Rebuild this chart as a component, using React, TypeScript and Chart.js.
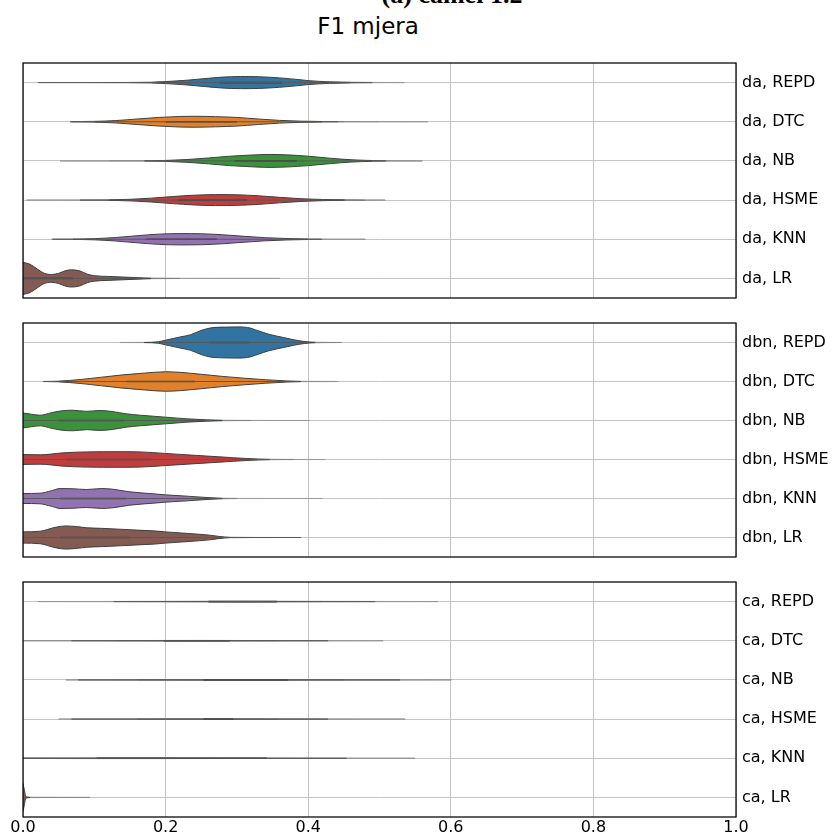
import React, { useEffect, useRef } from 'react';
import { Chart, registerables } from 'chart.js';

Chart.register(...registerables);

// ---------- data ----------
const xTickValues = [0, 0.2, 0.4, 0.6, 0.8, 1.0];
const classifiers = ['REPD', 'DTC', 'NB', 'HSME', 'KNN', 'LR'];
const groups = ['da', 'dbn', 'ca'];
const palette = ['#3274a1', '#e1812c', '#3a923a', '#c03d3e', '#9372b2', '#845b53'];

// each violin: F1 positions (x), half-width of density (w, in row units), box stats [whiskerLo, q1, median, q3, whiskerHi]
// --- da ---
const daREPD_x = [0.02, 0.1, 0.15, 0.18, 0.2, 0.23, 0.26, 0.28, 0.305, 0.33, 0.36, 0.39, 0.4, 0.43, 0.46, 0.49, 0.535];
const daREPD_w = [0.001, 0.002, 0.004, 0.01, 0.025, 0.06, 0.11, 0.14, 0.155, 0.15, 0.12, 0.07, 0.05, 0.02, 0.008, 0.003, 0.001];
const daREPD_box = [0.022, 0.276, 0.316, 0.363, 0.49];

const daDTC_x = [0.066, 0.1, 0.13, 0.16, 0.19, 0.22, 0.24, 0.27, 0.3, 0.33, 0.36, 0.39, 0.42, 0.45, 0.5, 0.568];
const daDTC_w = [0.003, 0.01, 0.03, 0.07, 0.11, 0.135, 0.14, 0.13, 0.11, 0.07, 0.035, 0.015, 0.006, 0.003, 0.002, 0.001];
const daDTC_box = [0.068, 0.2, 0.245, 0.3, 0.442];

const daNB_x = [0.052, 0.12, 0.17, 0.2, 0.23, 0.26, 0.29, 0.32, 0.345, 0.37, 0.4, 0.43, 0.46, 0.49, 0.51, 0.56];
const daNB_w = [0.001, 0.002, 0.004, 0.012, 0.035, 0.075, 0.12, 0.15, 0.165, 0.155, 0.12, 0.07, 0.03, 0.01, 0.004, 0.001];
const daNB_box = [0.171, 0.297, 0.342, 0.384, 0.508];

const daHSME_x = [0.005, 0.08, 0.12, 0.15, 0.18, 0.21, 0.24, 0.27, 0.3, 0.33, 0.36, 0.39, 0.42, 0.45, 0.48, 0.508];
const daHSME_w = [0.001, 0.002, 0.006, 0.02, 0.05, 0.09, 0.125, 0.14, 0.135, 0.11, 0.07, 0.035, 0.015, 0.006, 0.003, 0.001];
const daHSME_box = [0.08, 0.218, 0.265, 0.314, 0.452];

const daKNN_x = [0.04, 0.07, 0.1, 0.13, 0.16, 0.19, 0.22, 0.25, 0.28, 0.31, 0.34, 0.37, 0.4, 0.42, 0.48];
const daKNN_w = [0.002, 0.005, 0.015, 0.045, 0.09, 0.13, 0.145, 0.14, 0.115, 0.075, 0.04, 0.018, 0.006, 0.003, 0.001];
const daKNN_box = [0.042, 0.173, 0.223, 0.272, 0.419];

const daLR_x = [0, 0.01, 0.02, 0.03, 0.04, 0.05, 0.06, 0.068, 0.08, 0.09, 0.1, 0.12, 0.14, 0.16, 0.18, 0.22, 0.36];
const daLR_w = [0.41, 0.36, 0.24, 0.13, 0.1, 0.13, 0.2, 0.22, 0.19, 0.11, 0.07, 0.05, 0.035, 0.02, 0.006, 0.002, 0.001];
const daLR_box = [0, 0, 0.03, 0.07, 0.173];

// --- dbn ---
const dbnREPD_x = [0.136, 0.17, 0.19, 0.2, 0.22, 0.235, 0.25, 0.265, 0.285, 0.3, 0.315, 0.33, 0.345, 0.365, 0.38, 0.395, 0.41, 0.447];
const dbnREPD_w = [0.001, 0.003, 0.02, 0.06, 0.14, 0.2, 0.31, 0.38, 0.395, 0.4, 0.385, 0.3, 0.21, 0.13, 0.07, 0.025, 0.006, 0.001];
const dbnREPD_box = [0.19, 0.262, 0.288, 0.318, 0.4];

const dbnDTC_x = [0.028, 0.05, 0.08, 0.11, 0.14, 0.17, 0.2, 0.22, 0.25, 0.28, 0.31, 0.34, 0.37, 0.39, 0.442];
const dbnDTC_w = [0.002, 0.01, 0.05, 0.11, 0.17, 0.215, 0.25, 0.235, 0.185, 0.13, 0.085, 0.045, 0.015, 0.004, 0.001];
const dbnDTC_box = [0.03, 0.145, 0.194, 0.241, 0.385];

const dbnNB_x = [0, 0.012, 0.024, 0.04, 0.055, 0.07, 0.089, 0.108, 0.125, 0.145, 0.165, 0.2, 0.23, 0.258, 0.28, 0.32, 0.402];
const dbnNB_w = [0.19, 0.16, 0.136, 0.2, 0.25, 0.263, 0.235, 0.255, 0.23, 0.17, 0.135, 0.085, 0.042, 0.017, 0.005, 0.002, 0.001];
const dbnNB_box = [0, 0.05, 0.09, 0.141, 0.265];

const dbnHSME_x = [0, 0.024, 0.056, 0.089, 0.136, 0.164, 0.2, 0.23, 0.276, 0.314, 0.346, 0.38, 0.424];
const dbnHSME_w = [0.127, 0.12, 0.17, 0.195, 0.2, 0.195, 0.155, 0.12, 0.068, 0.025, 0.005, 0.002, 0.001];
const dbnHSME_box = [0, 0.061, 0.12, 0.18, 0.346];

const dbnKNN_x = [0, 0.024, 0.04, 0.052, 0.07, 0.089, 0.11, 0.125, 0.15, 0.183, 0.2, 0.23, 0.258, 0.28, 0.3, 0.42];
const dbnKNN_w = [0.127, 0.136, 0.2, 0.255, 0.25, 0.23, 0.255, 0.24, 0.17, 0.12, 0.093, 0.06, 0.025, 0.006, 0.002, 0.0005];
const dbnKNN_box = [0, 0.052, 0.096, 0.145, 0.28];

const dbnLR_x = [0, 0.024, 0.045, 0.06, 0.075, 0.089, 0.11, 0.136, 0.16, 0.183, 0.2, 0.234, 0.262, 0.276, 0.29, 0.32, 0.39];
const dbnLR_w = [0.144, 0.16, 0.26, 0.297, 0.28, 0.25, 0.235, 0.212, 0.19, 0.17, 0.144, 0.1, 0.06, 0.025, 0.006, 0.002, 0.001];
const dbnLR_box = [0, 0.052, 0.092, 0.15, 0.39];

// --- ca ---
const caREPD_x = [0.021, 0.127, 0.2, 0.26, 0.31, 0.356, 0.42, 0.494, 0.582];
const caREPD_w = [0.001, 0.003, 0.005, 0.007, 0.008, 0.007, 0.005, 0.003, 0.001];
const caREPD_box = [0.127, 0.26, 0.31, 0.356, 0.494];

const caDTC_x = [0, 0.068, 0.13, 0.197, 0.245, 0.29, 0.36, 0.428, 0.505];
const caDTC_w = [0.002, 0.003, 0.005, 0.007, 0.008, 0.007, 0.005, 0.003, 0.001];
const caDTC_box = [0.068, 0.197, 0.245, 0.29, 0.428];

const caNB_x = [0.06, 0.077, 0.16, 0.253, 0.31, 0.372, 0.45, 0.529, 0.601];
const caNB_w = [0.001, 0.002, 0.005, 0.007, 0.008, 0.007, 0.005, 0.003, 0.001];
const caNB_box = [0.077, 0.253, 0.31, 0.372, 0.529];

const caHSME_x = [0.05, 0.068, 0.16, 0.253, 0.275, 0.295, 0.36, 0.428, 0.536];
const caHSME_w = [0.001, 0.002, 0.005, 0.007, 0.008, 0.007, 0.005, 0.003, 0.001];
const caHSME_box = [0.068, 0.253, 0.275, 0.295, 0.428];

const caKNN_x = [0, 0.103, 0.2, 0.342, 0.454, 0.55];
const caKNN_w = [0.006, 0.008, 0.008, 0.006, 0.003, 0.001];
const caKNN_box = [0, 0.103, 0.2, 0.342, 0.454];

const caLR_x = [0, 0.002, 0.004, 0.01, 0.094];
const caLR_w = [0.36, 0.18, 0.02, 0.004, 0.002];
const caLR_box = [0, 0, 0, 0, 0];

const panelViolins = [
  [[daREPD_x, daREPD_w, daREPD_box], [daDTC_x, daDTC_w, daDTC_box], [daNB_x, daNB_w, daNB_box],
   [daHSME_x, daHSME_w, daHSME_box], [daKNN_x, daKNN_w, daKNN_box], [daLR_x, daLR_w, daLR_box]],
  [[dbnREPD_x, dbnREPD_w, dbnREPD_box], [dbnDTC_x, dbnDTC_w, dbnDTC_box], [dbnNB_x, dbnNB_w, dbnNB_box],
   [dbnHSME_x, dbnHSME_w, dbnHSME_box], [dbnKNN_x, dbnKNN_w, dbnKNN_box], [dbnLR_x, dbnLR_w, dbnLR_box]],
  [[caREPD_x, caREPD_w, caREPD_box], [caDTC_x, caDTC_w, caDTC_box], [caNB_x, caNB_w, caNB_box],
   [caHSME_x, caHSME_w, caHSME_box], [caKNN_x, caKNN_w, caKNN_box], [caLR_x, caLR_w, caLR_box]],
];

// ---------- layout ----------
const PANELS = [
  { top: 45, padTop: 18, area: 235, axisH: 0, padBottom: 2 },
  { top: 300, padTop: 23, area: 234, axisH: 0, padBottom: 2 },
  { top: 560, padTop: 22, area: 235, axisH: 18, padBottom: 0 },
];

function shade(w: number) {
  const t = Math.min(1, w / 0.01);
  const g = Math.round(170 - t * 107);
  return `rgb(${g},${g},${g})`;
}

function buildDatasets(pi: number) {
  const ds: any[] = [];
  panelViolins[pi].forEach((v: any, row: number) => {
    const xs: number[] = v[0];
    const ws: number[] = v[1];
    const st: number[] = v[2];
    const common = {
      borderWidth: 1,
      pointRadius: 0,
      cubicInterpolationMode: 'monotone',
      order: 1,
      segment: {
        borderColor: (c: any) => shade((ws[c.p0DataIndex] + ws[c.p1DataIndex]) / 2),
      },
    };
    ds.push({ ...common, data: xs.map((x, i) => ({ x, y: row - ws[i] })), fill: false, borderColor: '#3f3f3f' });
    ds.push({ ...common, data: xs.map((x, i) => ({ x, y: row + ws[i] })), fill: '-1', borderColor: '#3f3f3f', backgroundColor: palette[row] });
    if (st[4] > st[0]) {
      ds.push({ data: [{ x: st[0], y: row }, { x: st[4], y: row }], borderColor: '#585858', borderWidth: 1, pointRadius: 0, fill: false, order: 0 });
    }
    if (st[3] > st[1]) {
      ds.push({ data: [{ x: st[1], y: row }, { x: st[3], y: row }], borderColor: '#3f3f3f', borderWidth: 1.6, pointRadius: 0, fill: false, order: 0 });
    }
  });
  return ds;
}

const framePlugin = {
  id: 'frame',
  afterDraw(chart: any) {
    const { ctx, chartArea: a } = chart;
    ctx.save();
    ctx.strokeStyle = '#000';
    ctx.lineWidth = 1.25;
    ctx.strokeRect(a.left, a.top, a.right - a.left, a.bottom - a.top);
    ctx.restore();
  },
};

function Panel({ index }: { index: number }) {
  const ref = useRef<HTMLCanvasElement>(null);
  const p = PANELS[index];
  const H = p.padTop + p.area + p.axisH + p.padBottom;
  useEffect(() => {
    if (!ref.current) return;
    const showX = index === 2;
    const group = groups[index];
    const chart = new Chart(ref.current, {
      type: 'line',
      data: { datasets: buildDatasets(index) },
      plugins: [framePlugin],
      options: {
        animation: false,
        responsive: false,
        devicePixelRatio: 1,
        events: [],
        layout: { padding: { left: 23, top: p.padTop, bottom: p.padBottom, right: 0 } },
        plugins: { legend: { display: false }, tooltip: { enabled: false }, title: { display: false } },
        scales: {
          x: {
            type: 'linear',
            min: 0,
            max: 1,
            afterBuildTicks: (s: any) => { s.ticks = xTickValues.map((v) => ({ value: v })); },
            afterFit: (s: any) => {
              s.height = p.axisH;
              s.paddingLeft = 0; s.paddingRight = 0; s.paddingTop = 0; s.paddingBottom = 0;
            },
            ticks: {
              display: showX,
              callback: (v: any) => Number(v).toFixed(1),
              font: { size: 16, family: 'DejaVu Sans' },
              color: '#000',
              padding: 1,
              maxRotation: 0,
              autoSkip: false,
            },
            grid: { color: '#c4c4c4', lineWidth: 1, drawTicks: false },
            border: { display: false },
          },
          y: {
            type: 'linear',
            position: 'right',
            reverse: true,
            min: -0.5,
            max: 5.5,
            afterBuildTicks: (s: any) => { s.ticks = classifiers.map((_, i) => ({ value: i })); },
            afterFit: (s: any) => {
              s.width = 96;
              s.paddingLeft = 0; s.paddingRight = 0; s.paddingTop = 0; s.paddingBottom = 0;
            },
            ticks: {
              callback: (v: any) => `${group}, ${classifiers[Math.round(Number(v))]}`,
              font: { size: 16, family: 'DejaVu Sans' },
              color: '#000',
              padding: 6,
              autoSkip: false,
            },
            grid: { color: '#c4c4c4', lineWidth: 1, drawTicks: false },
            border: { display: false },
          },
        },
      } as any,
    });
    return () => chart.destroy();
  }, [index]);
  return (
    <canvas
      ref={ref}
      width={832}
      height={H}
      style={{ position: 'absolute', left: 0, top: p.top, width: 832, height: H }}
    />
  );
}

export default function App() {
  return (
    <div style={{ position: 'absolute', left: 0, top: 0, width: 832, height: 835, overflow: 'hidden', background: '#fff' }}>
      <div style={{ position: 'absolute', left: 0, width: 904, top: -18, textAlign: 'center', fontFamily: 'Liberation Serif, serif', fontWeight: 'bold', fontSize: 26, lineHeight: '26px', whiteSpace: 'nowrap' }}>
        (a) camel 1.2
      </div>
      <div style={{ position: 'absolute', left: 0, width: 736, top: 15, textAlign: 'center', fontFamily: 'DejaVu Sans', fontSize: 23, lineHeight: '23px', whiteSpace: 'nowrap', color: '#000' }}>
        F1 mjera
      </div>
      {[0, 1, 2].map((i) => <Panel key={i} index={i} />)}
    </div>
  );
}
